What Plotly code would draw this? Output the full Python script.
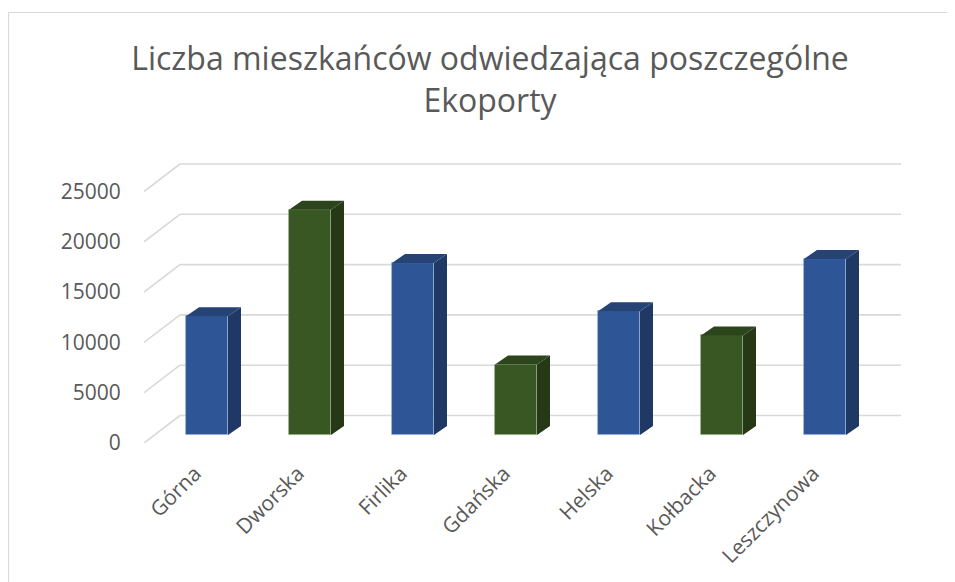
import plotly.graph_objects as go

# ---- data ----
categories = ["Górna", "Dworska", "Firlika", "Gdańska", "Helska", "Kołbacka", "Leszczynowa"]
values = [11800, 22400, 17100, 7000, 12300, 9900, 17500]
ytick_vals = [0, 5000, 10000, 15000, 20000, 25000]
ytick_text = ["0", "5000", "10000", "15000", "20000", "25000"]
title_text = "Liczba mieszkańców odwiedzająca poszczególne<br>Ekoporty"

# ---- style / geometry ----
OFF = 8                 # page body margin
W, H = 955, 582
ML, MT = 144 - OFF, 159 - OFF
PLOT_W, PLOT_H = 757, 284
MR = W - ML - PLOT_W
MB = H - MT - PLOT_H
PX_X = 103.0            # pixels per category
PX_Y = 251.5 / 25000.0  # pixels per value unit
X0 = -63.0 / PX_X       # left edge of plot (in category units)
X1 = X0 + PLOT_W / PX_X
Y1 = PLOT_H / PX_Y

def dx(px):
    return px / PX_X

def dy(px):
    return px / PX_Y

front_colors = {"blue": "#2E5596", "green": "#385723"}
side_colors = {"blue": "#203864", "green": "#253916"}
top_colors = {"blue": "#254375", "green": "#2C451C"}
edge_colors = {"blue": "rgba(150,175,220,0.7)", "green": "rgba(140,170,120,0.6)"}
palette = ["blue", "green", "blue", "green", "blue", "green", "blue"]

bar_w = dx(42)
bar_base = dy(8)
side_dx, side_dy = dx(13), dy(9)
grid_dx, grid_dy = dx(36), dy(27.5)
label_shift = dx(12)

fig = go.Figure()

# front faces
xs = list(range(len(categories)))
fig.add_trace(go.Bar(
    x=xs, y=values, base=[bar_base] * len(values), width=bar_w,
    marker=dict(color=[front_colors[c] for c in palette],
                line=dict(color=[edge_colors[c] for c in palette], width=0.8)),
    hoverinfo="skip", showlegend=False,
))

# sides and tops
for key in ["blue", "green"]:
    sx, sy, tx, ty = [], [], [], []
    for i, v in enumerate(values):
        if palette[i] != key:
            continue
        xr = i + bar_w / 2
        xl = i - bar_w / 2
        yb = bar_base
        yt = bar_base + v
        sx += [xr, xr + side_dx, xr + side_dx, xr, xr, None]
        sy += [yb, yb + side_dy, yt + side_dy, yt, yb, None]
        tx += [xl, xr, xr + side_dx, xl + side_dx, xl, None]
        ty += [yt, yt, yt + side_dy, yt + side_dy, yt, None]
    fig.add_trace(go.Scatter(x=sx, y=sy, mode="lines", fill="toself",
                             fillcolor=side_colors[key], line=dict(width=0, color=side_colors[key]),
                             hoverinfo="skip", showlegend=False))
    fig.add_trace(go.Scatter(x=tx, y=ty, mode="lines", fill="toself",
                             fillcolor=top_colors[key], line=dict(width=0, color=top_colors[key]),
                             hoverinfo="skip", showlegend=False))

# gridlines (floor diagonals + back wall)
shapes = []
for v in ytick_vals:
    shapes.append(dict(type="line", xref="x", yref="y", layer="below",
                       x0=X0, y0=v, x1=X0 + grid_dx, y1=v + grid_dy,
                       line=dict(color="#D9D9D9", width=1.6)))
    shapes.append(dict(type="line", xref="x", yref="y", layer="below",
                       x0=X0 + grid_dx, y0=v + grid_dy, x1=X1, y1=v + grid_dy,
                       line=dict(color="#D9D9D9", width=1.6)))

# chart border
shapes.append(dict(type="rect", xref="paper", yref="paper", layer="below",
                   x0=(8.5 - OFF - ML) / PLOT_W, x1=(990 - ML) / PLOT_W,
                   y0=(H - MB - 620) / PLOT_H, y1=(H - MB - (12.5 - OFF)) / PLOT_H,
                   line=dict(color="#D9D9D9", width=1.2), fillcolor="rgba(0,0,0,0)"))

font_family = "Open Sans, Noto Sans, sans-serif"
fig.update_layout(
    width=W, height=H,
    margin=dict(l=ML, r=MR, t=MT, b=MB, pad=0),
    paper_bgcolor="white", plot_bgcolor="rgba(0,0,0,0)",
    showlegend=False,
    shapes=shapes,
    title=dict(text=title_text, xref="container", yref="container",
               x=(490 - OFF) / W, y=1 - (70 - OFF) / H, xanchor="center", yanchor="middle",
               font=dict(family=font_family, size=32, color="#595959")),
    xaxis=dict(range=[X0, X1], tickmode="array",
               tickvals=[x - label_shift for x in xs], ticktext=categories,
               tickangle=-45, showgrid=False, zeroline=False, showline=False,
               ticks="outside", ticklen=9, tickcolor="rgba(0,0,0,0)",
               tickfont=dict(family=font_family, size=21, color="#595959"),
               fixedrange=True),
    yaxis=dict(range=[0, Y1], tickmode="array", tickvals=ytick_vals, ticktext=ytick_text,
               showgrid=False, zeroline=False, showline=False,
               ticks="outside", ticklen=18, tickcolor="rgba(0,0,0,0)",
               tickfont=dict(family=font_family, size=21, color="#595959"),
               fixedrange=True),
    bargap=0,
)

fig.write_html("out.html")
